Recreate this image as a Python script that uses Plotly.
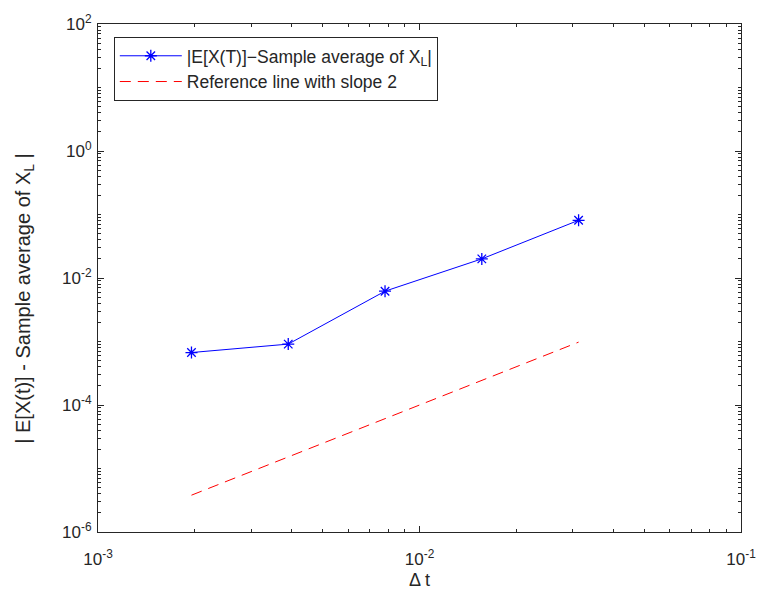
import numpy as np
import plotly.graph_objects as go

# Data
dt = [0.001953125, 0.00390625, 0.0078125, 0.015625, 0.03125]
err = [6.7e-4, 9.1e-4, 6.2e-3, 0.020, 0.081]
ref = [3.8e-6, 1.53e-5, 6.1e-5, 2.44e-4, 9.77e-4]

x_ticks = [1e-3, 1e-2, 1e-1]
x_ticktext = ["10<sup>-3</sup>", "10<sup>-2</sup>", "10<sup>-1</sup>"]
y_ticks = [1e-6, 1e-4, 1e-2, 1e0, 1e2]
y_ticktext = ["10<sup>-6</sup>", "10<sup>-4</sup>", "10<sup>-2</sup>", "10<sup>0</sup>", "10<sup>2</sup>"]

x_minor = [m * 10.0 ** e for e in range(-3, -1) for m in range(2, 10)]
y_minor = [m * 10.0 ** e for e in range(-6, 2) for m in range(1, 10) if not (m == 1 and e % 2 == 0)]

axcol = "#262626"
font = "Liberation Sans, Arial, Helvetica, sans-serif"

fig = go.Figure()
fig.add_trace(go.Scatter(
    x=dt, y=err, mode="lines+markers",
    name="|E[X(T)]−Sample average of X<sub>L</sub>|",
    line=dict(color="#0000ff", width=1),
    marker=dict(symbol="asterisk-open", size=10, color="#0000ff",
                line=dict(color="#0000ff", width=1.3)),
))
fig.add_trace(go.Scatter(
    x=dt, y=ref, mode="lines",
    name="Reference line with slope 2",
    line=dict(color="#ff0000", width=1, dash="11px,7px"),
))

axis_common = dict(
    type="log", showgrid=False, zeroline=False,
    showline=True, linecolor=axcol, linewidth=1, mirror="allticks",
    ticks="inside", ticklen=6, tickcolor=axcol,
    tickfont=dict(family=font, size=17, color=axcol),
)

fig.update_xaxes(
    **axis_common, range=[-3, -1], tickmode="array",
    tickvals=x_ticks, ticktext=x_ticktext, ticklabelstandoff=12,
    minor=dict(tickmode="array", tickvals=x_minor, ticks="inside", ticklen=3, tickcolor=axcol),
    title=dict(text="Δ t", font=dict(family=font, size=18, color=axcol), standoff=4),
)
fig.update_yaxes(
    **axis_common, range=[-6, 2], tickmode="array",
    tickvals=y_ticks, ticktext=y_ticktext, ticklabelstandoff=2,
    minor=dict(tickmode="array", tickvals=y_minor, ticks="inside", ticklen=3, tickcolor=axcol),
)

fig.add_annotation(
    text="| E[X(t)] - Sample average of X<sub>L</sub> |",
    xref="paper", yref="paper", x=(24 - 98) / 651, y=(532 - 296) / 512,
    xanchor="center", yanchor="middle", textangle=-90, showarrow=False,
    font=dict(family=font, size=20, color=axcol),
)

fig.update_layout(
    width=768, height=600,
    margin=dict(l=98, r=19, t=20, b=68),
    paper_bgcolor="white", plot_bgcolor="white",
    showlegend=True,
    legend=dict(
        x=(114 - 98) / 651, y=(532 - 33) / 512, xanchor="left", yanchor="top",
        bgcolor="white", bordercolor=axcol, borderwidth=1,
        font=dict(family=font, size=17.5, color=axcol),
        tracegroupgap=0, itemwidth=62,
    ),
)

fig.write_html("out.html")
